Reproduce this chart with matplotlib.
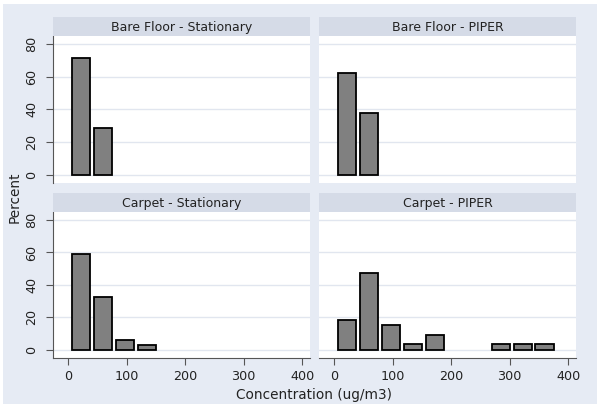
import matplotlib
matplotlib.use("Agg")
import matplotlib.pyplot as plt
from matplotlib.patches import Rectangle

plt.rcParams['font.family'] = ['DejaVu Sans']

# ---- data ----
bin_edges = [2.7, 40.3, 77.9, 115.5, 153.1, 190.7, 228.3, 265.9, 303.5, 341.1, 378.7]
panel_titles = ["Bare Floor - Stationary", "Bare Floor - PIPER",
                "Carpet - Stationary", "Carpet - PIPER"]
bare_stationary = [71.4, 28.6, 0, 0, 0, 0, 0, 0, 0, 0]
bare_piper = [62.0, 38.0, 0, 0, 0, 0, 0, 0, 0, 0]
carpet_stationary = [59.3, 32.5, 6.2, 3.1, 0, 0, 0, 0, 0, 0]
carpet_piper = [18.0, 47.4, 15.2, 3.2, 9.2, 0, 0, 3.2, 3.2, 3.2]
x_ticks = [0, 100, 200, 300, 400]
y_ticks = [0, 20, 40, 60, 80]
x_label = "Concentration (ug/m3)"
y_label = "Percent"

series = [bare_stationary, bare_piper, carpet_stationary, carpet_piper]

W, H = 602, 407
fig = plt.figure(figsize=(W / 100, H / 100), dpi=100)
fig.patch.set_facecolor("white")
bg = "#e6ebf4"
strip_c = "#d5dbe7"
grid_c = "#e1e6ef"
fig.patches.append(Rectangle((3 / W, 3 / H), (594) / W, (400) / H,
                             transform=fig.transFigure, facecolor=bg,
                             edgecolor="none", zorder=-10))

def fx(px):
    return px / W

def fy(py):
    return 1 - py / H

cols = [(53, 310), (319, 576)]
rows = [(36, 183, 17), (212, 358, 193)]

for i, vals in enumerate(series):
    r, c = divmod(i, 2)
    x0, x1 = cols[c]
    y0, y1, s0 = rows[r]
    ax = fig.add_axes([fx(x0), fy(y1), fx(x1 - x0), (y1 - y0) / H])
    ax.set_facecolor("white")
    ax.set_xlim(-26.5, 413.5)
    ax.set_ylim(-5.2, 85)
    for yt in y_ticks:
        ax.axhline(yt, color=grid_c, lw=1.0, zorder=0)
    centers = [(bin_edges[k] + bin_edges[k + 1]) / 2 for k in range(len(vals))]
    width = (bin_edges[1] - bin_edges[0]) * 0.84
    cc = [centers[k] for k in range(len(vals)) if vals[k] > 0]
    hh = [vals[k] for k in range(len(vals)) if vals[k] > 0]
    ax.bar(cc, hh, width=width, color="#808080", edgecolor="black",
           linewidth=1.3, zorder=2)
    for sp in ax.spines.values():
        sp.set_visible(False)
    ax.set_yticks(y_ticks)
    ax.set_xticks(x_ticks)
    if c == 0:
        ax.spines["left"].set_visible(True)
        ax.spines["left"].set_color("#555555")
        ax.spines["left"].set_linewidth(0.8)
        ax.tick_params(axis="y", length=5, width=0.8, color="#555555",
                       labelsize=9.2, pad=5.5, labelcolor="#222222")
        for lab in ax.get_yticklabels():
            lab.set_rotation(90)
            lab.set_va("center")
    else:
        ax.tick_params(axis="y", left=False, labelleft=False)
    if r == 1:
        ax.spines["bottom"].set_visible(True)
        ax.spines["bottom"].set_color("#555555")
        ax.spines["bottom"].set_linewidth(0.8)
        ax.tick_params(axis="x", length=5, width=0.8, color="#555555",
                       labelsize=9.2, pad=4, labelcolor="#222222")
    else:
        ax.tick_params(axis="x", bottom=False, labelbottom=False)
    # strip
    sax = fig.add_axes([fx(x0), fy(y0), fx(x1 - x0), (y0 - s0) / H])
    sax.set_facecolor(strip_c)
    sax.set_xticks([])
    sax.set_yticks([])
    for sp in sax.spines.values():
        sp.set_visible(False)
    sax.text(0.5, 0.45, panel_titles[i], ha="center", va="center",
             fontsize=9, color="#222222", transform=sax.transAxes)

fig.text(fx(314.5), fy(394.5), x_label, ha="center", va="center",
         fontsize=9.8, color="#222222")
fig.text(fx(15), fy(197), y_label, ha="center", va="center",
         fontsize=9.8, color="#222222", rotation=90)

fig.savefig("out.png", dpi=100)
